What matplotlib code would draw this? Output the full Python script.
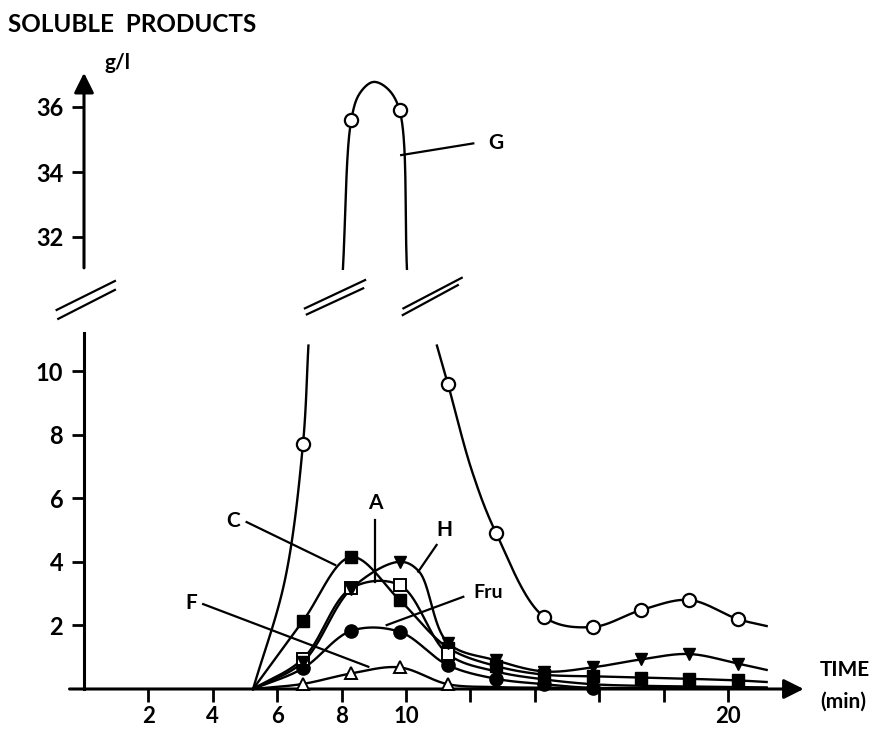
import numpy as np
import matplotlib
matplotlib.use('Agg')
import matplotlib.pyplot as plt

plt.rcParams['font.family'] = ['Lato', 'DejaVu Sans']
plt.rcParams['font.weight'] = 'bold'

# sampling times (min)
times = [6.8, 8.3, 9.8, 11.3, 12.8, 14.3, 15.8, 17.3, 18.8, 20.3]
t_start = 5.25   # all curves leave the baseline here
t_end = 21.2     # curves are drawn up to here

# G (open circles), g/l ; 8.3 and 9.8 are on the upper (broken) scale
g_values = [7.7, 35.6, 35.9, 9.6, 4.9, 2.26, 1.95, 2.48, 2.8, 2.2]
g_end = 1.98
g_peak_t = [8.57, 8.98, 9.41]
g_peak_v = [36.43, 36.77, 36.58]
g_cut_t = [6.97, 8.04, 10.03, 10.96]   # where the drawn G curve stops at the break
g_cut_low, g_cut_high = 10.8, 31.0
g_rise_t, g_rise_v = [6.24], [3.43]    # extra points read on the drawn curve
g_fall_t, g_fall_v = [12.05], [6.85]

# other products, g/l
c_values = [2.14, 4.15, 2.8, 1.3, 0.72, 0.45, 0.4, 0.36, 0.32, 0.27]
c_end = 0.22
a_values = [0.95, 3.17, 3.27, 1.1, 0.55, 0.3, 0.15, 0.1, 0.08, 0.06]
a_end = 0.05
h_values = [0.85, 3.15, 4.0, 1.45, 0.9, 0.55, 0.68, 0.93, 1.1, 0.8]
h_end = 0.6
h_shoulder_t, h_shoulder_v = 10.4, 3.7
fru_values = [0.65, 1.83, 1.8, 0.75, 0.32, 0.15, 0.03, 0.02, 0.02, 0.02]
fru_end = 0.02
f_values = [0.16, 0.49, 0.68, 0.15, 0.06, 0.04, 0.03, 0.03, 0.02, 0.02]
f_end = 0.02

xticks = [2, 4, 6, 8, 10, 12, 14, 16, 18, 20]
xticklabels = ['2', '4', '6', '8', '10', '', '', '', '', '20']


def smooth(ts, vs, n=40):
    # centripetal catmull-rom through the read points, only for drawing
    order = np.argsort(ts, kind='stable')
    p = np.column_stack([np.asarray(ts)[order], np.asarray(vs)[order]]).astype(float)
    p = np.vstack([2 * p[0] - p[1], p, 2 * p[-1] - p[-2]])
    out = []
    for i in range(1, len(p) - 2):
        p0, p1, p2, p3 = p[i - 1], p[i], p[i + 1], p[i + 2]
        t0 = 0.0
        t1 = t0 + np.linalg.norm(p1 - p0) ** 0.5 + 1e-9
        t2 = t1 + np.linalg.norm(p2 - p1) ** 0.5 + 1e-9
        t3 = t2 + np.linalg.norm(p3 - p2) ** 0.5 + 1e-9
        t = np.linspace(t1, t2, n)[:, None]
        a1 = (t1 - t) / (t1 - t0) * p0 + (t - t0) / (t1 - t0) * p1
        a2 = (t2 - t) / (t2 - t1) * p1 + (t - t1) / (t2 - t1) * p2
        a3 = (t3 - t) / (t3 - t2) * p2 + (t - t2) / (t3 - t2) * p3
        b1 = (t2 - t) / (t2 - t0) * a1 + (t - t0) / (t2 - t0) * a2
        b2 = (t3 - t) / (t3 - t1) * a2 + (t - t1) / (t3 - t1) * a3
        c = (t2 - t) / (t2 - t1) * b1 + (t - t1) / (t2 - t1) * b2
        out.append(c)
    out = np.vstack(out)
    return out[:, 0], out[:, 1]


W, H = 878, 731
fig = plt.figure(figsize=(W / 100, H / 100), dpi=100)

# pixel layout of the two scales
x0_px, x_scale = 84, 32.2
lo_zero_px, lo_scale = 689, 31.8
hi_36_px, hi_scale = 107, 32.5
xmax = 22.4
lo_ylim = (-0.6, 11.2)
hi_ylim = (31.0, 37.5)

lo_bottom = lo_zero_px - lo_ylim[0] * lo_scale
ax_lo = fig.add_axes([x0_px / W, 1 - lo_bottom / H, xmax * x_scale / W,
                      (lo_ylim[1] - lo_ylim[0]) * lo_scale / H])
hi_bottom = hi_36_px + (36 - hi_ylim[0]) * hi_scale
ax_hi = fig.add_axes([x0_px / W, 1 - hi_bottom / H, xmax * x_scale / W,
                      (hi_ylim[1] - hi_ylim[0]) * hi_scale / H])

for ax in (ax_lo, ax_hi):
    ax.set_xlim(0, xmax)
    ax.patch.set_visible(False)
    for s in ax.spines.values():
        s.set_visible(False)
    ax.tick_params(width=2, length=9, labelsize=17, pad=6)
ax_lo.set_ylim(*lo_ylim)
ax_hi.set_ylim(*hi_ylim)

lw = 1.7
arrow = dict(arrowstyle='-|>,head_length=0.6,head_width=0.3', mutation_scale=20,
             lw=2.2, color='black', shrinkA=0, shrinkB=0)
# lower axes: axis lines
ax_lo.spines['left'].set_visible(True)
ax_lo.spines['left'].set_linewidth(2.2)
ax_lo.spines['left'].set_bounds(0, lo_ylim[1])
ax_lo.spines['bottom'].set_position(('data', 0))
ax_lo.annotate('', xy=(22.35, 0), xytext=(-0.45, 0), annotation_clip=False,
               arrowprops=arrow)
ax_lo.set_xticks(xticks)
ax_lo.set_xticklabels(xticklabels)
ax_lo.set_yticks([2, 4, 6, 8, 10])
ax_lo.tick_params(axis='x', labelsize=16, pad=3)

# upper axes: arrow axis with broken scale
ax_hi.annotate('', xy=(0, 37.05), xytext=(0, 31.05), annotation_clip=False,
               arrowprops=arrow)
ax_hi.set_xticks([])
ax_hi.set_yticks([32, 34, 36])

# G curve in three pieces
tx, ty = smooth([t_start, times[0], g_cut_t[0]] + g_rise_t,
                [0, g_values[0], g_cut_low] + g_rise_v)
ax_lo.plot(tx, ty, color='black', lw=lw, zorder=2)
tx, ty = smooth([g_cut_t[1], times[1]] + g_peak_t + [times[2], g_cut_t[2]],
                [g_cut_high, g_values[1]] + g_peak_v + [g_values[2], g_cut_high])
ax_hi.plot(tx, ty, color='black', lw=lw, zorder=2)
tx, ty = smooth([g_cut_t[3]] + times[3:] + [t_end] + g_fall_t,
                [g_cut_low] + g_values[3:] + [g_end] + g_fall_v)
ax_lo.plot(tx, ty, color='black', lw=lw, zorder=2)

g_lo_t = [times[0]] + times[3:]
g_lo_v = [g_values[0]] + g_values[3:]
circ = dict(marker='o', ms=9.5, mfc='white', mec='black', mew=1.6, ls='none', zorder=5)
ax_lo.plot(g_lo_t, g_lo_v, **circ)
ax_hi.plot(times[1:3], g_values[1:3], **circ)

# other curves: values, end value, extra curve points, marker style, markers shown
series = [
    (f_values, f_end, [], dict(marker='^', ms=8, mfc='white', mec='black', mew=1.4), 4),
    (fru_values, fru_end, [], dict(marker='o', ms=9.5, mfc='black', mec='black'), 7),
    (c_values, c_end, [], dict(marker='s', ms=8, mfc='black', mec='black'), 10),
    (a_values, a_end, [], dict(marker='s', ms=8.5, mfc='white', mec='black', mew=1.4), 4),
    (h_values, h_end, [(h_shoulder_t, h_shoulder_v)],
     dict(marker='v', ms=9, mfc='black', mec='black'), 10),
]
for k, (vals, end, extra, mk, nmark) in enumerate(series):
    tx, ty = smooth([t_start] + times + [t_end] + [e[0] for e in extra],
                    [0] + vals + [end] + [e[1] for e in extra])
    ax_lo.plot(tx, ty, color='black', lw=lw, zorder=2)
    ax_lo.plot(times[:nmark], vals[:nmark], ls='none', zorder=5 + k, **mk)

# labels with leader lines
lab = dict(fontsize=15, ha='center', va='center')
lead = dict(color='black', lw=1.6, clip_on=False, zorder=3)
ax_lo.text(4.63, 5.28, 'C', **lab)
ax_lo.plot([5.05, 7.8], [5.25, 3.9], **lead)
ax_lo.text(9.05, 5.85, 'A', **lab)
ax_lo.plot([9.05, 9.05], [5.3, 3.37], **lead)
ax_lo.text(11.18, 5.0, 'H', **lab)
ax_lo.plot([10.95, 10.38], [4.53, 3.69], **lead)
ax_lo.text(12.55, 3.05, 'Fru', fontsize=14, ha='center', va='center')
ax_lo.plot([11.78, 9.4], [2.9, 2.01], **lead)
ax_lo.text(3.34, 2.69, 'F', **lab)
ax_lo.plot([3.7, 8.83], [2.67, 0.7], **lead)
ax_hi.text(12.8, 34.9, 'G', **lab)
ax_hi.plot([12.09, 9.85], [34.88, 34.52], **lead)

# break marks (double slashes)
breaks = [(-0.85, 0.96, 11.92, 12.83), (-0.8, 0.96, 11.64, 12.55),
          (6.86, 8.73, 11.97, 12.86), (6.92, 8.67, 11.78, 12.6),
          (9.92, 11.73, 11.97, 12.93), (9.9, 11.61, 11.76, 12.7)]
for xa, xb, ya, yb in breaks:
    ax_lo.plot([xa, xb], [ya, yb], color='black', lw=1.6, clip_on=False)

# titles
fig.text(8 / W, 1 - 24 / H, 'SOLUBLE  PRODUCTS', fontsize=17.5, ha='left', va='center')
fig.text(118 / W, 1 - 63 / H, 'g/l', fontsize=15, ha='center', va='center')
fig.text(820 / W, 1 - 670 / H, 'TIME', fontsize=15, ha='left', va='center')
fig.text(820 / W, 1 - 702 / H, '(min)', fontsize=15, ha='left', va='center')

fig.savefig('out.png', dpi=100)
